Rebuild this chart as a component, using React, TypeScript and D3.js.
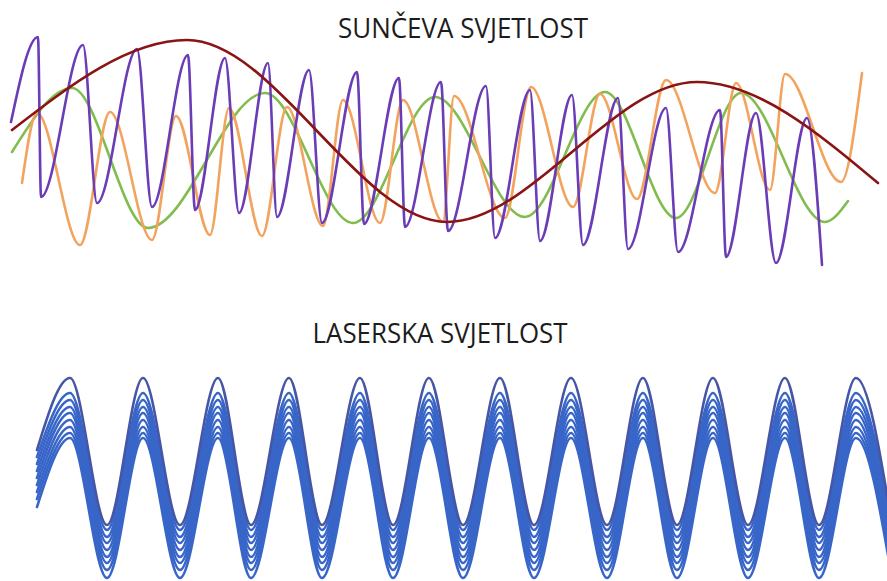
import React from 'react';
import * as d3 from 'd3';

type Pt = [number, number];

// sunlight waves: [distance, amplitude], amplitude = field strength (up is positive)
const sunRed: Pt[] = [[12, 20], [187, 110], [447, -72], [697, 68], [878, -33]];

const sunGreen: Pt[] = [
  [12, -2], [72, 62], [148, -78], [265, 57], [353, -73], [435, 53],
  [525, -67], [605, 58], [676, -68], [741, 57], [825, -72], [848, -51],
];

const sunOrange: Pt[] = [
  [22, -33], [37, 37], [80, -95], [110, 38], [152, -90], [176, 34], [210, -85],
  [229, 42], [262, -86], [287, 43], [323, -76], [343, 50], [380, -73], [403, 50],
  [443, -72], [454, 54], [505, -68], [531, 63], [573, -57], [600, 56], [637, -49],
  [666, 70], [715, -43], [736, 67], [770, -40], [785, 76], [841, -32], [862, 77],
];

const sunPurple: Pt[] = [
  [11, 28], [38, 113], [41, -47], [83, 105], [97, -53], [137, 101], [152, -57],
  [188, 95], [195, -60], [225, 92], [239, -63], [268, 87], [277, -67], [309, 80],
  [322, -73], [357, 78], [364, -74], [399, 72], [405, -77], [441, 68], [448, -81],
  [486, 64], [495, -88], [530, 60], [540, -91], [572, 55], [583, -95], [618, 52],
  [628, -99], [666, 42], [678, -102], [720, 40], [726, -107], [756, 37], [776, -113],
  [807, 32], [822, -115],
];

// laser: nine coherent waves sharing crest/trough positions
const laserStartX = 37;
const laserTurnX = [70, 107, 143, 180, 218, 251, 289, 322, 360, 393, 429, 463,
  500, 534, 571, 607, 643, 677, 713, 748, 785, 819, 856, 892];
const laserStart = [30, 23, 16, 9, 2, -5, -12, -19, -27];
const laserHigh = [102, 87, 80, 73, 67, 60, 53, 47, 42];
const laserLow = [-45, -50, -57, -63, -70, -77, -83, -90, -98];

const W = 887;
const H = 581;

const App: React.FC = () => {
  const x = d3.scaleLinear().domain([0, 887]).range([0, W]);
  const ySun = d3.scaleLinear().domain([-150, 150]).range([300, 0]);
  const yLaser = d3.scaleLinear().domain([-100, 100]).range([580, 380]);

  const sunLine = d3.line<Pt>()
    .x(d => x(d[0]))
    .y(d => ySun(d[1]))
    .curve(d3.curveMonotoneX);

  const laserLine = d3.line<Pt>()
    .x(d => x(d[0]))
    .y(d => yLaser(d[1]))
    .curve(d3.curveMonotoneX);

  const sunWaves = [
    { data: sunGreen, color: '#80bd4e' },
    { data: sunOrange, color: '#f2a45e' },
    { data: sunPurple, color: '#6a3cb6' },
    { data: sunRed, color: '#8a1414' },
  ];

  const laserWaves = laserHigh.map((hi, i) => {
    const pts: Pt[] = [[laserStartX, laserStart[i]]];
    laserTurnX.forEach((tx, j) => pts.push([tx, j % 2 === 0 ? hi : laserLow[i]]));
    return pts;
  }).reverse();

  const titleStyle: React.CSSProperties = {
    fontFamily: '"Open Sans", "Noto Sans", sans-serif',
    fontSize: 27,
    fill: '#1c1c1c',
  };

  return (
    <svg width={W} height={H} viewBox={`0 0 ${W} ${H}`}
      style={{ position: 'absolute', left: 0, top: 0, background: '#fff', display: 'block' }}>
      <rect width={W} height={H} fill="#fff" />
      <text x={463} y={38} textAnchor="middle" style={titleStyle}
        textLength={250} lengthAdjust="spacingAndGlyphs">SUNČEVA SVJETLOST</text>
      {sunWaves.map((w, i) => (
        <path key={i} d={sunLine(w.data) || ''} fill="none" stroke={w.color}
          strokeWidth={2.6} strokeLinecap="round" strokeLinejoin="round" />
      ))}
      <text x={440} y={343} textAnchor="middle" style={titleStyle}
        textLength={255} lengthAdjust="spacingAndGlyphs">LASERSKA SVJETLOST</text>
      {laserWaves.map((pts, i) => (
        <path key={i} d={laserLine(pts) || ''} fill="none"
          stroke={i === laserWaves.length - 1 ? '#4656a6' : '#3866c8'}
          strokeWidth={2.6} strokeLinecap="round" />
      ))}
    </svg>
  );
};

export default App;
